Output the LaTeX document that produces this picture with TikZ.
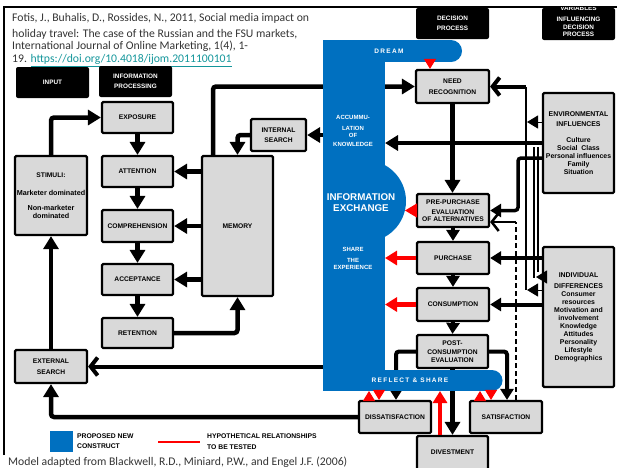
\documentclass[tikz,border=0pt]{standalone}
\usepackage{fontspec}
\setmainfont{Carlito}
\setsansfont{Liberation Sans}
\newfontfamily\spacedsans{Liberation Sans}[LetterSpace=20]
\usetikzlibrary{arrows.meta}
\definecolor{construct}{RGB}{0,112,192}
\definecolor{boxgray}{RGB}{217,217,217}
\definecolor{linkteal}{RGB}{20,150,155}
\tikzset{
  stage/.style={draw, line width=2.2pt, fill=boxgray, rounded corners=1.2pt, inner sep=0pt,
    align=center, font=\sffamily\bfseries\fontsize{6.7}{7.8}\selectfont},
  header/.style={fill=black, text=white, rounded corners=2pt, inner sep=0pt, align=center,
    font=\sffamily\bfseries\fontsize{6.4}{9.5}\selectfont},
  headerline/.style={text=white, inner sep=0pt, font=\sffamily\bfseries\fontsize{6.4}{7}\selectfont},
  bigflow/.style={line width=4.5pt, rounded corners=3pt, -{Triangle[length=13pt,width=15pt]}},
  stepflow/.style={line width=4pt, rounded corners=3pt, -{Triangle[length=11pt,width=13pt]}},
  barb/.style={line width=4pt, -{Straight Barb[length=7pt,width=18pt]}},
  thinlink/.style={line width=2.2pt},
  redflow/.style={red, line width=4.5pt, -{Triangle[length=12pt,width=14pt]}},
  redtip/.style={red, line width=1pt, -{Triangle[length=10pt,width=12pt]}},
  onblue/.style={text=white, inner sep=0pt, align=center,
    font=\sffamily\bfseries\fontsize{6}{7.5}\selectfont},
  cite/.style={inner sep=0pt, text=black!80, font=\fontsize{11.7}{13}\selectfont},
  legendtxt/.style={inner sep=0pt, align=left, font=\sffamily\bfseries\fontsize{6.8}{10.5}\selectfont},
}
\newcommand{\plainline}[1]{{\fontsize{7.2}{8}\selectfont #1}}
\begin{document}
\begin{tikzpicture}[x=1pt,y=-1pt]
\useasboundingbox (0,0) rectangle (617,467);
\clip (0,0) rectangle (617,467);

% frame of the slide
\draw[line width=1.8pt] (4,455) -- (4,7) -- (617,7);

% reference
\node[cite, anchor=base west] (cite1) at (12,21.5) {Fotis, J., Buhalis, D., Rossides, N., 2011, Social media impact on};
\node[cite, anchor=base west] (cite2) at (12,37) {holiday travel: The case of the Russian and the FSU markets,};
\node[cite, anchor=base west] (cite3) at (12,49) {International Journal of Online Marketing, 1(4), 1-};
\node[cite, anchor=base west] (cite4) at (12,62.5) {19. \textcolor{linkteal}{\underline{https://doi.org/10.4018/ijom.2011100101}}};

% column headers
\node[header, minimum width=73pt, minimum height=31pt] (input) at (52.5,82.5) {INPUT};
\node[header, minimum width=73pt, minimum height=31pt] (infoproc) at (135.5,81.5) {INFORMATION\\PROCESSING};
\node[header, minimum width=73pt, minimum height=31pt] (decision) at (452.5,23.5) {DECISION\\PROCESS};
\node[header, minimum width=73pt, minimum height=32pt] (variables) at (578.5,24) {};
\begin{scope}
  \clip (variables.south west) rectangle (variables.north east);
  \node[headerline] (var1) at (578.5,8.5) {VARIABLES};
  \node[headerline] (var2) at (578.5,19) {INFLUENCING};
  \node[headerline] (var3) at (578.5,27.5) {DECISION};
  \node[headerline] (var4) at (578.5,34) {PROCESS};
\end{scope}

% input and information processing
\node[stage, minimum width=72pt, minimum height=79pt] (stimuli) at (51,195.5)
  {STIMULI:\\[10pt]\plainline{Marketer dominated}\\[7pt]\plainline{Non-marketer}\\\plainline{dominated}};
\node[stage, minimum width=72pt, minimum height=33pt] (extsearch) at (51,366.5) {EXTERNAL\\[3pt]SEARCH};
\node[stage, minimum width=71pt, minimum height=31pt] (expo) at (137.5,117.5) {EXPOSURE};
\node[stage, minimum width=71pt, minimum height=31pt] (atten) at (137.5,171.5) {ATTENTION};
\node[stage, minimum width=71pt, minimum height=32pt] (compr) at (137.5,226) {COMPREHENSION};
\node[stage, minimum width=71pt, minimum height=31pt] (accep) at (137.5,279.5) {ACCEPTANCE};
\node[stage, minimum width=71pt, minimum height=30pt] (reten) at (137.5,333) {RETENTION};
\node[stage, minimum width=71pt, minimum height=140pt] (memory) at (237.5,226) {MEMORY};
\node[stage, minimum width=55pt, minimum height=32pt] (intsearch) at (278.5,135) {INTERNAL\\[2pt]SEARCH};

% decision process
\node[stage, minimum width=73pt, minimum height=33pt] (need) at (452.5,86.5) {NEED\\[3pt]RECOGNITION};
\node[stage, minimum width=72pt, minimum height=33pt] (prepur) at (453,210.5) {PRE-PURCHASE\\[3pt]EVALUATION\\[-1pt]OF ALTERNATIVES};
\node[stage, minimum width=72pt, minimum height=32pt] (purch) at (453,258) {PURCHASE};
\node[stage, minimum width=72pt, minimum height=33pt] (consum) at (453,304.5) {CONSUMPTION};
\node[stage, minimum width=71pt, minimum height=33pt] (postc) at (452.5,351.5) {POST-\\[2pt]CONSUMPTION\\EVALUATION};
\node[stage, minimum width=72pt, minimum height=32pt] (dissat) at (395,417) {DISSATISFACTION};
\node[stage, minimum width=72pt, minimum height=32pt] (satis) at (506,417) {SATISFACTION};
\node[stage, minimum width=71pt, minimum height=36pt, text depth=0pt] (divest) at (452.5,454) {\raisebox{3pt}{DIVESTMENT}};

% variables influencing the decision process
\node[stage, minimum width=71pt, minimum height=100pt, font=\sffamily\bfseries\fontsize{6.9}{8}\selectfont] (env) at (578.5,143)
  {ENVIRONMENTAL\\[2pt]INFLUENCES\\[8pt]Culture\\Social~ Class\\Personal influences\\Family\\Situation};
\node[stage, minimum width=71pt, minimum height=140pt, font=\sffamily\bfseries\fontsize{6.9}{8}\selectfont] (indiv) at (578.5,317)
  {INDIVIDUAL\\[3pt]DIFFERENCES\\Consumer\\resources\\Motivation and\\involvement\\Knowledge\\Attitudes\\Personality\\Lifestyle\\Demographics};

% attachment points on the blue construct
\coordinate (dreamtip) at (430,62);
\coordinate (exchtip) at (405,210.5);
\coordinate (knowtip) at (385,143);
\coordinate (intsrc) at (323,135);
\coordinate (extsrc) at (323,366.5);
\coordinate (purtip) at (385,258);
\coordinate (contip) at (385,304.5);
\coordinate (dissup) at (369,391);
\coordinate (dissdown) at (379,391);
\coordinate (divup) at (440,391);
\coordinate (satup) at (480,391);
\coordinate (satdown) at (491,391);
% junctions of the influence lines
\coordinate (needfeed) at (526,290);
\coordinate (envturn) at (518,158);
\coordinate (fbcorner) at (516,222);
\coordinate (linkA) at (534,147);
\coordinate (linkB) at (538,147);

% connectors that pass behind the blue construct
\draw[bigflow] ([xshift=-24.5pt]memory.north) |- (need.west);
\draw[stepflow] (postc.west) -| ([xshift=1pt]dissat.north);
\draw[stepflow] (postc.east) -| ([xshift=1pt]satis.north);
\draw[bigflow] (postc.south) -- (divest.north);

% the proposed new construct
\fill[construct] (323,40) rectangle (451,62);
\fill[construct] (451,51) circle (11pt);
\fill[construct] (323,40) rectangle (385,391);
\fill[construct] (365,201) circle (41pt);
\fill[construct] (323,370) rectangle (492,391);
\fill[construct] (492,380.5) circle (10.5pt);
\node[onblue, font=\spacedsans\bfseries\fontsize{6.5}{7.5}\selectfont] (dream) at (389,51) {DREAM};
\node[onblue] (accum) at (353,130.5) {ACCUMMU-\\[3.5pt]LATION\\[-0.5pt]OF\\[1.5pt]KNOWLEDGE};
\node[onblue, font=\sffamily\bfseries\fontsize{9.8}{11}\selectfont] (exchange) at (361,202.5) {INFORMATION\\EXCHANGE};
\node[onblue] (shareexp) at (353,258.5) {SHARE\\[3pt]THE\\EXPERIENCE};
\node[onblue, font=\spacedsans\bfseries\fontsize{6.5}{7.5}\selectfont] (reflect) at (410,380) {REFLECT \& SHARE};

% input and information processing flows
\draw[bigflow] (stimuli.north) |- (expo.west);
\draw[bigflow] (expo.south) -- (atten.north);
\draw[bigflow] (atten.south) -- (compr.north);
\draw[bigflow] (compr.south) -- (accep.north);
\draw[bigflow] (accep.south) -- (reten.north);
\draw[bigflow] (memory.west |- atten.east) -- (atten.east);
\draw[bigflow] (memory.west |- compr.east) -- (compr.east);
\draw[bigflow] (memory.west |- accep.east) -- (accep.east);
\draw[bigflow] (reten.east) -| (memory.south);
\draw[bigflow] (intsearch.west) -| (memory.north);
\draw[bigflow] (intsrc) -- (intsearch.east);
\draw[barb] (extsrc) -- (extsearch.east);
\draw[bigflow] (dissat.west) -| (extsearch.south);
\draw[bigflow] (extsearch.north) -- (stimuli.south);

% decision process flows
\draw[bigflow] (need.south) -- (need.south |- prepur.north);
\draw[stepflow] (prepur.south) -- (purch.north);
\draw[stepflow] (purch.south) -- (consum.north);
\draw[stepflow] (consum.south) -- (postc.north);

% influences from the right-hand boxes
\draw[bigflow] (env.west) -- (knowtip);
\draw[stepflow, line width=3.5pt] ([yshift=-15pt]env.west) -- (envturn) |- (prepur.east);
\draw[line width=2.5pt] (needfeed) -- (needfeed |- need.east);
\draw[barb] (needfeed |- need.east) -- (need.east);
\draw[stepflow, line width=1pt] ([yshift=21pt]env.west) -- (527,122);
\draw[stepflow, line width=1pt] (indiv.west |- needfeed) -- (527,290);
\draw[thinlink] (linkA) -- (534,278);
\draw[thinlink] (linkB) -- (538,272);
\draw[stepflow, line width=1pt] ([yshift=40pt]indiv.west) -- (536,277);
\draw[stepflow] (indiv.west |- purch.east) -- (purch.east);
\draw[stepflow] (indiv.west |- consum.east) -- (consum.east);
\draw[line width=2pt, dash pattern=on 5pt off 3pt] ([xshift=10pt]satis.north) -- (fbcorner);
\draw[barb, line width=2.5pt] (fbcorner) -- (fbcorner -| prepur.east);

% hypothetical relationships
\draw[redtip] (dreamtip) -- ([xshift=-22.5pt]need.north);
\draw[redflow, line width=1pt] (prepur.west) -- (exchtip);
\draw[redflow] (purch.west) -- (purtip);
\draw[redflow] (consum.west) -- (contip);
\draw[redtip] (dissat.north -| dissup) -- (dissup);
\draw[redtip] (dissdown) -- (dissat.north -| dissdown);
\draw[redtip] (satis.north -| satup) -- (satup);
\draw[redtip] (satdown) -- (satis.north -| satdown);
\draw[redflow] (divest.north -| divup) -- (divup);

% legend
\node[fill=construct, minimum width=23pt, minimum height=21pt, inner sep=0pt] (legblue) at (61.5,441.5) {};
\node[legendtxt, anchor=west] (legbluetxt) at (77,441) {PROPOSED NEW\\CONSTRUCT};
\coordinate (legredA) at (158,442);
\coordinate (legredB) at (200,442);
\draw[red, line width=2.5pt] (legredA) -- (legredB);
\node[legendtxt, anchor=west] (legredtxt) at (207,441.5) {HYPOTHETICAL RELATIONSHIPS\\TO BE TESTED};

\node[cite, anchor=base west] (source) at (8,465.5) {Model adapted from Blackwell, R.D., Miniard, P.W., and Engel J.F. (2006)};
\end{tikzpicture}
\end{document}
